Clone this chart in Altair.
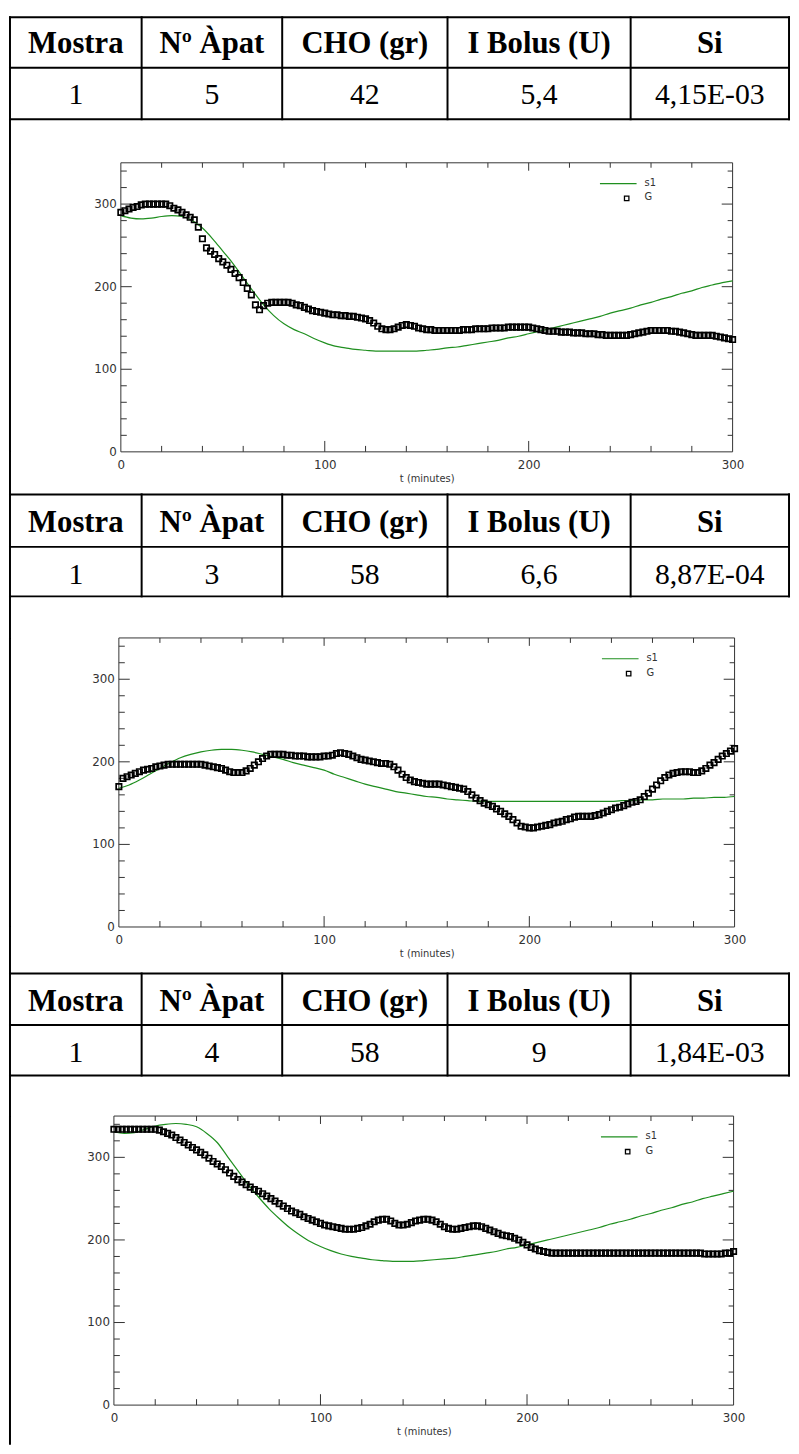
import altair as alt
import pandas as pd

# ---------------- data ----------------
HEADERS = ["Mostra", "Nº Àpat", "CHO (gr)", "I Bolus (U)", "Si"]
ROW_1 = ["1", "5", "42", "5,4", "4,15E-03"]
ROW_2 = ["1", "3", "58", "6,6", "8,87E-04"]
ROW_3 = ["1", "4", "58", "9", "1,84E-03"]

T_G = list(range(0, 301, 2))     # minutes, measured glucose samples
T_S = list(range(0, 301, 5))     # minutes, model curve samples

G_1 = [290, 292, 294, 296, 297, 299, 300, 300, 300, 300,
       300, 300, 298, 295, 293, 290, 287, 284, 281, 272,
       258, 247, 243, 239, 234, 230, 226, 221, 216, 211,
       205, 198, 190, 178, 172, 177, 180, 181, 181, 181,
       181, 181, 180, 178, 177, 175, 173, 171, 170, 169,
       168, 167, 166, 166, 165, 165, 164, 164, 163, 162,
       161, 159, 156, 152, 149, 148, 148, 149, 151, 153,
       154, 153, 152, 150, 149, 148, 148, 147, 147, 147,
       147, 147, 147, 147, 148, 148, 148, 149, 149, 149,
       149, 150, 150, 150, 150, 151, 151, 151, 151, 151,
       151, 150, 149, 148, 147, 146, 146, 146, 145, 145,
       145, 144, 144, 144, 143, 143, 143, 142, 142, 141,
       141, 141, 141, 141, 141, 142, 143, 144, 145, 146,
       147, 147, 147, 147, 147, 146, 146, 145, 144, 143,
       142, 141, 141, 141, 141, 141, 140, 139, 138, 137,
       136]
S1_1 = [286, 283, 282, 283, 285, 286, 285, 280, 271, 258,
        243, 228, 211, 194, 178, 165, 155, 148, 143, 137,
        132, 128, 126, 124, 123, 122, 122, 122, 122, 122,
        123, 124, 126, 127, 129, 131, 133, 135, 138, 140,
        143, 146, 149, 152, 155, 158, 161, 164, 168, 171,
        174, 178, 181, 185, 188, 192, 195, 199, 202, 205,
        207]

G_2 = [170, 180, 182, 184, 186, 188, 190, 191, 192, 194,
       195, 196, 197, 197, 197, 197, 197, 197, 197, 197,
       197, 196, 195, 194, 193, 192, 190, 188, 187, 187,
       187, 189, 192, 196, 200, 204, 207, 209, 209, 209,
       209, 208, 208, 207, 207, 207, 206, 206, 206, 206,
       207, 207, 208, 210, 211, 210, 209, 207, 205, 203,
       202, 201, 200, 199, 198, 198, 197, 194, 190, 185,
       181, 178, 176, 175, 174, 173, 173, 173, 173, 172,
       171, 170, 169, 168, 167, 164, 160, 156, 153, 150,
       148, 146, 143, 140, 137, 134, 130, 126, 122, 121,
       120, 120, 121, 122, 123, 124, 126, 127, 128, 130,
       131, 133, 134, 134, 134, 134, 135, 136, 138, 140,
       142, 144, 145, 147, 149, 151, 152, 154, 158, 162,
       167, 172, 177, 181, 184, 186, 187, 188, 188, 188,
       187, 187, 189, 192, 196, 199, 203, 207, 210, 213,
       216]
S1_2 = [168, 172, 178, 185, 192, 199, 205, 209, 212, 214,
        215, 215, 214, 212, 209, 206, 203, 199, 196, 193,
        190, 185, 181, 177, 173, 170, 167, 164, 162, 160,
        158, 157, 155, 154, 153, 152, 152, 152, 152, 152,
        152, 152, 152, 152, 152, 152, 152, 152, 152, 153,
        153, 154, 154, 155, 155, 155, 156, 156, 157, 157,
        158]

G_3 = [334, 334, 334, 334, 334, 334, 334, 334, 334, 334,
       334, 333, 331, 329, 327, 324, 321, 318, 315, 312,
       309, 306, 303, 299, 295, 292, 289, 285, 281, 277,
       273, 270, 267, 264, 261, 259, 256, 253, 250, 247,
       244, 241, 238, 235, 233, 231, 228, 226, 224, 222,
       220, 218, 217, 216, 215, 214, 213, 213, 213, 214,
       215, 217, 219, 222, 224, 225, 225, 223, 220, 218,
       218, 219, 221, 223, 224, 225, 225, 224, 222, 219,
       216, 214, 213, 213, 214, 215, 216, 217, 217, 216,
       214, 212, 210, 208, 206, 205, 204, 202, 200, 197,
       194, 191, 189, 187, 186, 185, 184, 184, 184, 184,
       184, 184, 184, 184, 184, 184, 184, 184, 184, 184,
       184, 184, 184, 184, 184, 184, 184, 184, 184, 184,
       184, 184, 184, 184, 184, 184, 184, 184, 184, 184,
       184, 184, 184, 183, 183, 183, 183, 183, 184, 184,
       186]
S1_3 = [331, 329, 330, 334, 338, 340, 341, 340, 337, 329,
        318, 301, 284, 267, 252, 238, 226, 215, 206, 198,
        192, 187, 183, 180, 178, 176, 175, 174, 174, 174,
        175, 176, 177, 178, 180, 182, 184, 186, 189, 191,
        194, 197, 200, 203, 206, 209, 212, 215, 219, 222,
        225, 229, 232, 236, 239, 243, 246, 250, 253, 256,
        259]

AXIS_LABELS = [0, 100, 200, 300]
LEGEND_LABELS = ["s1", "G"]

# ---------------- layout / style ----------------
W = 789
COL_EDGES = [1, 134, 276, 443, 628, 788]
GREEN = "#1f8f1f"
INK = "#333333"
AX_FONT = "DejaVu Sans"
SERIF = "Liberation Serif"

X_MAJOR = [100, 200]
X_MINOR = [v for v in range(20, 300, 20) if v % 100]
Y_MAJOR = [100, 200, 300]
Y_MINOR = [v for v in range(20, 350, 20) if v % 100]


def table_view(row, top, div, bottom, hb, db, height):
    centers = [(COL_EDGES[i] + COL_EDGES[i + 1]) / 2 for i in range(5)]
    head = pd.DataFrame({"label": HEADERS, "cx": centers, "cy": [hb] * 5})
    vals = pd.DataFrame({"label": row, "cx": centers, "cy": [db] * 5})
    lines = []
    for yy in (top, div, bottom):
        lines.append(dict(x=COL_EDGES[0], x2=COL_EDGES[-1], y=yy, y2=yy))
    for xx in COL_EDGES:
        lines.append(dict(x=xx, x2=xx, y=top, y2=bottom))
    lines.append(dict(x=1, x2=1, y=bottom, y2=height))
    if top > 1:
        lines.append(dict(x=1, x2=1, y=0, y2=top))
    ldf = pd.DataFrame(lines)
    rules = alt.Chart(ldf).mark_rule(color="black", strokeWidth=2, strokeCap="square").encode(
        x=alt.X("x:Q", scale=None, axis=None), x2="x2:Q",
        y=alt.Y("y:Q", scale=None, axis=None), y2="y2:Q")
    htxt = alt.Chart(head).mark_text(font=SERIF, fontSize=31, fontWeight="bold",
                                     baseline="alphabetic", align="center", color="black").encode(
        x=alt.X("cx:Q", scale=None, axis=None), y=alt.Y("cy:Q", scale=None, axis=None), text="label:N")
    dtxt = alt.Chart(vals).mark_text(font=SERIF, fontSize=30, baseline="alphabetic",
                                     align="center", color="black").encode(
        x=alt.X("cx:Q", scale=None, axis=None), y=alt.Y("cy:Q", scale=None, axis=None), text="label:N")
    return alt.layer(rules, htxt, dtxt).properties(width=W, height=height)


def chart_view(g_vals, s_vals, xr, h=292, border_extra=0):
    x0, x1 = xr
    xs = alt.Scale(domain=[0, 300], range=[x0, x1], nice=False, zero=False)
    ys = alt.Scale(domain=[0, 350], range=[h, 0], nice=False, zero=False)
    xaxis = alt.Axis(values=AXIS_LABELS, ticks=False, tickSize=0, domain=False, grid=False,
                     labelFont=AX_FONT, labelFontSize=12, labelColor=INK, labelPadding=8,
                     labelFlush=False, labelOverlap=False, format="d",
                     title="t (minutes)", titleFont=AX_FONT, titleFontSize=10,
                     titleFontWeight="normal", titleColor=INK, titlePadding=3)

    def XF(f):
        return alt.X(f, scale=xs, axis=xaxis)

    def YF(f):
        return alt.Y(f, scale=ys, axis=None)

    frame_df = pd.DataFrame({"a": [0], "b": [300], "c": [0], "d": [350]})
    frame = alt.Chart(frame_df).mark_rect(fillOpacity=0, stroke=INK, strokeWidth=1).encode(
        x=XF("a:Q"), x2="b:Q", y=YF("c:Q"), y2="d:Q")

    xmaj = pd.DataFrame({"v": X_MAJOR})
    xmin = pd.DataFrame({"v": X_MINOR})
    ymaj = pd.DataFrame({"v": Y_MAJOR})
    ymin = pd.DataFrame({"v": Y_MINOR})
    rk = dict(color=INK, strokeWidth=1)
    ticks = [
        alt.Chart(xmaj).mark_rule(**rk).encode(x=XF("v:Q"), y=alt.value(h), y2=alt.value(h - 11)),
        alt.Chart(xmin).mark_rule(**rk).encode(x=XF("v:Q"), y=alt.value(h), y2=alt.value(h - 6)),
        alt.Chart(xmaj).mark_rule(**rk).encode(x=XF("v:Q"), y=alt.value(0), y2=alt.value(8)),
        alt.Chart(xmin).mark_rule(**rk).encode(x=XF("v:Q"), y=alt.value(0), y2=alt.value(5)),
        alt.Chart(ymaj).mark_rule(**rk).encode(y=YF("v:Q"), x=alt.value(x0), x2=alt.value(x0 + 11)),
        alt.Chart(ymin).mark_rule(**rk).encode(y=YF("v:Q"), x=alt.value(x0), x2=alt.value(x0 + 6)),
        alt.Chart(ymaj).mark_rule(**rk).encode(y=YF("v:Q"), x=alt.value(x1), x2=alt.value(x1 - 11)),
        alt.Chart(ymin).mark_rule(**rk).encode(y=YF("v:Q"), x=alt.value(x1), x2=alt.value(x1 - 5)),
    ]
    ylab = alt.Chart(pd.DataFrame({"v": AXIS_LABELS})).mark_text(
        font=AX_FONT, fontSize=12, color=INK, align="right", baseline="middle").encode(
        x=alt.value(x0 - 4), y=YF("v:Q"), text="v:Q")

    sdf = pd.DataFrame({"t": T_S, "s1": s_vals})
    gdf = pd.DataFrame({"t": T_G, "G": g_vals})
    line = alt.Chart(sdf).mark_line(color=GREEN, strokeWidth=1.2, interpolate="monotone").encode(
        x=XF("t:Q"), y=YF("s1:Q"))
    pts = alt.Chart(gdf).mark_point(shape="square", filled=False, size=30, strokeWidth=1.7,
                                    color="black", opacity=1).encode(x=XF("t:Q"), y=YF("G:Q"))

    lx = x1 - 134
    leg = [
        alt.Chart(pd.DataFrame({"k": [0]})).mark_rule(color=GREEN, strokeWidth=1.2).encode(
            x=alt.value(lx), x2=alt.value(lx + 37), y=alt.value(21)),
        alt.Chart(pd.DataFrame({"k": [0]})).mark_point(shape="square", filled=False, size=20,
                                                        strokeWidth=1.3, color="black", opacity=1).encode(
            x=alt.value(lx + 27), y=alt.value(36)),
        alt.Chart(pd.DataFrame({"k": [0]})).mark_text(font=AX_FONT, fontSize=10, color=INK,
                                                       align="left", baseline="middle").encode(
            x=alt.value(lx + 45), y=alt.value(20), text=alt.value(LEGEND_LABELS[0])),
        alt.Chart(pd.DataFrame({"k": [0]})).mark_text(font=AX_FONT, fontSize=10, color=INK,
                                                       align="left", baseline="middle").encode(
            x=alt.value(lx + 45), y=alt.value(35), text=alt.value(LEGEND_LABELS[1])),
    ]
    border = alt.Chart(pd.DataFrame({"k": [0]})).mark_rule(color="black", strokeWidth=2).encode(
        x=alt.value(1), y=alt.value(0), y2=alt.value(h + border_extra))

    return alt.layer(frame, *ticks, ylab, line, pts, *leg, border).properties(width=W, height=h)


t1 = table_view(ROW_1, 1, 52, 104, 37, 89, 148)
c1 = chart_view(G_1, S1_1, (113, 731))
t2 = table_view(ROW_2, 43, 96, 146, 81, 133, 188)
c2 = chart_view(G_2, S1_2, (111, 733))
t3 = table_view(ROW_3, 47, 99, 150, 85, 136, 191)
c3 = chart_view(G_3, S1_3, (106, 732), border_extra=40)

chart = alt.vconcat(t1, c1, t2, c2, t3, c3, spacing=0, bounds="flush", padding=0).configure_view(
    stroke=None)

chart.save("out.html", embed_options={"renderer": "svg", "actions": False})
